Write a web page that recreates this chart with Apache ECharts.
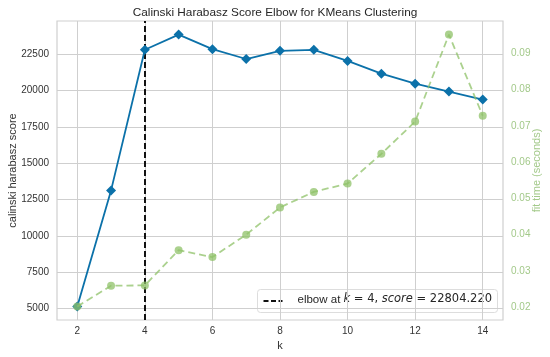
<!DOCTYPE html>
<html>
<head>
<meta charset="utf-8">
<script src="https://cdn.jsdelivr.net/npm/echarts@6/dist/echarts.min.js"></script>
<style>html,body{margin:0;padding:0;background:#fff;}#c{width:550px;height:357px;}</style>
</head>
<body>
<div id="c"></div>
<script>
const kValues = [2, 3, 4, 5, 6, 7, 8, 9, 10, 11, 12, 13, 14];
const scores = [5150, 13130, 22804.22, 23850, 22850, 22170, 22730, 22800, 22040, 21160, 20470, 19930, 19380];
const fitTimes = [0.0202, 0.0259, 0.0260, 0.0357, 0.0338, 0.0400, 0.0475, 0.0518, 0.0541, 0.0623, 0.0712, 0.0952, 0.0728];
const xTicks = [2, 4, 6, 8, 10, 12, 14];
const yLeftTicks = [5000, 7500, 10000, 12500, 15000, 17500, 20000, 22500];
const yRightTicks = [0.02, 0.03, 0.04, 0.05, 0.06, 0.07, 0.08, 0.09];
const elbowK = 4;
const elbowScore = 22804.220;

const pad = (lo, hi) => { const r = hi - lo; return [lo - r * 0.05, hi + r * 0.05]; };
const xR = pad(Math.min(...kValues), Math.max(...kValues));
const yL = pad(Math.min(...scores), Math.max(...scores));
const yR = pad(Math.min(...fitTimes), Math.max(...fitTimes));

const blue = '#0b71a9';
const green = 'rgba(143,194,104,0.75)';
const greenText = '#a3c98a';
const font = 'Liberation Sans, Arial, sans-serif';

const chart = echarts.init(document.getElementById('c'));
chart.setOption({
  animation: false,
  backgroundColor: '#fff',
  textStyle: { fontFamily: font },
  title: {
    text: 'Calinski Harabasz Score Elbow for KMeans Clustering',
    left: 'center', top: 2,
    textStyle: { fontSize: 11.8, fontWeight: 'normal', color: '#262626', fontFamily: font }
  },
  grid: { left: 57, right: 47, top: 21, bottom: 37, show: true, borderColor: '#cfcfcf', borderWidth: 1.2, backgroundColor: '#fff',
    outerBoundsMode: 'none', containLabel: false },
  xAxis: {
    type: 'value', min: xR[0], max: xR[1],
    name: 'k', nameLocation: 'middle', nameGap: 20, nameMoveOverlap: false,
    nameTextStyle: { fontSize: 11, color: '#333', fontFamily: font },
    axisLine: { show: false },
    axisTick: { show: false, customValues: xTicks },
    axisLabel: { customValues: xTicks, fontSize: 10, color: '#333', margin: 6, fontFamily: font, formatter: v => String(v) },
    splitLine: { show: true, lineStyle: { color: '#cfcfcf', width: 1 } }
  },
  yAxis: [{
    type: 'value', min: yL[0], max: yL[1],
    name: 'calinski harabasz score', nameLocation: 'middle', nameGap: 39, nameMoveOverlap: false,
    nameTextStyle: { fontSize: 11, color: '#333', fontFamily: font },
    axisLine: { show: false },
    axisTick: { show: false, customValues: yLeftTicks },
    axisLabel: { customValues: yLeftTicks, fontSize: 10, color: '#333', margin: 8, fontFamily: font, formatter: v => String(v) },
    splitLine: { show: true, lineStyle: { color: '#cfcfcf', width: 1 } }
  }, {
    type: 'value', min: yR[0], max: yR[1], position: 'right',
    name: 'fit time (seconds)', nameLocation: 'middle', nameGap: 28, nameRotate: 90, nameMoveOverlap: false,
    nameTextStyle: { fontSize: 11, color: greenText, fontFamily: font },
    axisLine: { show: false },
    axisTick: { show: false, customValues: yRightTicks },
    axisLabel: { customValues: yRightTicks, fontSize: 10, color: greenText, margin: 8, fontFamily: font,
      formatter: v => v.toFixed(2) },
    splitLine: { show: false }
  }],
  series: [{
    name: 'score', type: 'line', yAxisIndex: 0,
    data: kValues.map((k, i) => [k, scores[i]]),
    symbol: 'diamond', symbolSize: 10, showSymbol: true,
    lineStyle: { color: blue, width: 1.8 },
    itemStyle: { color: blue, borderColor: blue, borderWidth: 0 },
    z: 3,
    markLine: {
      silent: true, symbol: 'none', label: { show: false },
      lineStyle: { color: '#111', width: 2, type: [6, 3] },
      data: [{ xAxis: elbowK }], z: 2
    }
  }, {
    name: 'fit time', type: 'line', yAxisIndex: 1,
    data: kValues.map((k, i) => [k, fitTimes[i]]),
    symbol: 'circle', symbolSize: 8,
    lineStyle: { color: green, width: 1.8, type: [7, 4] },
    itemStyle: { color: green, borderWidth: 0 },
    z: 4
  }],
  graphic: [{
    type: 'group', left: 257, top: 289, z: 100,
    children: [{
      type: 'rect', shape: { x: 0, y: 0, width: 240, height: 23, r: 3 },
      style: { fill: 'rgba(255,255,255,0.8)', stroke: '#dddddd', lineWidth: 1 }
    }, {
      type: 'line', shape: { x1: 6, y1: 11.5, x2: 25, y2: 11.5 },
      style: { stroke: '#111', lineWidth: 2, lineDash: [5, 2.5] }
    }, {
      type: 'text', left: 40, top: 4,
      style: {
        text: '{n|elbow at }{i|k}{m| = ' + elbowK + ', }{i|score}{m| = ' + elbowScore.toFixed(3) + '}',
        rich: {
          n: { fontFamily: font, fontSize: 11.5, fill: '#262626' },
          i: { fontFamily: 'DejaVu Sans', fontStyle: 'italic', fontSize: 11.5, fill: '#262626' },
          m: { fontFamily: 'DejaVu Sans', fontSize: 11.5, fill: '#262626' }
        }
      }
    }]
  }]
});
</script>
</body>
</html>
